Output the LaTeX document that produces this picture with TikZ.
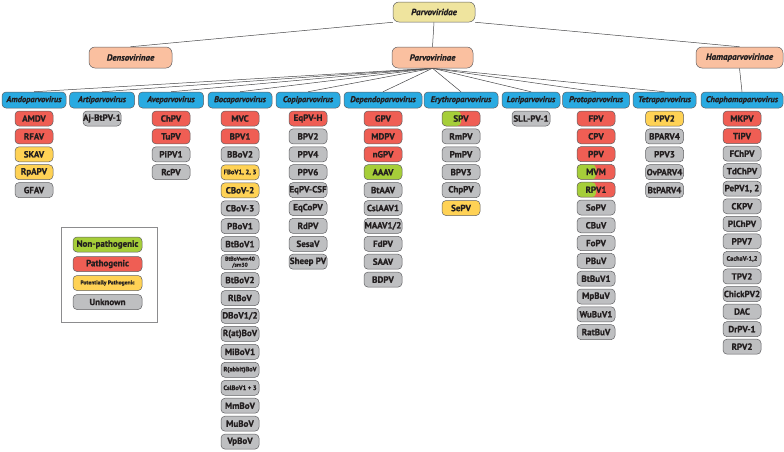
\documentclass[tikz,border=0pt]{standalone}
\usepackage{fontspec}
\setmainfont{PT Sans}[BoldFeatures={FakeBold=0.8},BoldItalicFeatures={FakeBold=0.8}]
\usetikzlibrary{backgrounds}
\definecolor{famfill}{RGB}{239,228,158}
\definecolor{subfill}{RGB}{250,192,160}
\definecolor{genfill}{RGB}{41,170,225}
\definecolor{pathred}{RGB}{239,94,84}
\definecolor{potyellow}{RGB}{255,210,85}
\definecolor{nongreen}{RGB}{166,206,57}
\definecolor{unkgray}{RGB}{190,191,193}
\definecolor{edge}{RGB}{95,95,98}
\definecolor{ink}{RGB}{35,31,32}
\definecolor{linegray}{RGB}{70,70,72}
\definecolor{legendgray}{RGB}{140,140,142}
\begin{document}
\begin{tikzpicture}[x=1pt,y=-1pt,
  box/.style={draw=edge,line width=0.5pt,rounded corners=4pt,inner sep=0pt,text=ink,
    font=\fontsize{9}{9}\selectfont\bfseries},
  fam/.style={box,fill=famfill,minimum width=82pt,minimum height=20pt,rounded corners=6pt,
    font=\fontsize{9}{10}\selectfont\bfseries\itshape},
  sub/.style={box,fill=subfill,minimum height=21pt,rounded corners=6pt,
    font=\fontsize{9}{10}\selectfont\bfseries\itshape},
  genus/.style={box,fill=genfill,minimum height=16pt,
    font=\fontsize{8.4}{9}\selectfont\bfseries\itshape},
  sp/.style={box,minimum width=38pt,minimum height=15pt},
  sp-r/.style={sp,fill=pathred},
  sp-y/.style={sp,fill=potyellow},
  sp-n/.style={sp,fill=nongreen},
  sp-g/.style={sp,fill=unkgray},
  sp-gs/.style={sp-g,font=\fontsize{6.4}{7}\selectfont\bfseries},
  sp-gt/.style={sp-g,align=center,font=\fontsize{5.6}{6}\selectfont\bfseries},
  sp-ys/.style={sp-y,font=\fontsize{6.6}{7}\selectfont\bfseries},
  sp-s/.style={sp,fill=pathred,path picture={\fill[nongreen] (path picture bounding box.south west)
    rectangle (path picture bounding box.north);}},
  link/.style={draw=linegray,line width=0.5pt},
]
\useasboundingbox (0,0) rectangle (784,451);
% family and subfamilies
\node[fam] (pv) at (434,12) {Parvoviridae};
\node[sub,minimum width=83pt] (dens) at (130.5,57.5) {Densovirinae};
\node[sub,minimum width=81pt] (parv) at (432.5,57.5) {Parvovirinae};
\node[sub,minimum width=87pt] (hama) at (739.5,57.5) {Hamaparvovirinae};
% genera with their species
\foreach \gx/\gw/\gname/\pitch/\splist [count=\i] in {
  34/64/Amdoparvovirus/17.9/{AMDV/r,RFAV/r,SKAV/y,RpAPV/y,GFAV/g},
  102/65/Artiparvovirus/17.9/{Aj-BtPV-1/g},
  171/65/Aveparvovirus/17.9/{ChPV/r,TuPV/r,PiPV1/g,RcPV/g},
  240/64/Bocaparvovirus/17.95/{MVC/r,BPV1/r,BBoV2/g,{FBoV1, 2, 3}/ys,CBoV-2/y,CBoV-3/g,PBoV1/g,
    BtBoV1/g,{BtBoVwm40\\/sm30}/gt,BtBoV2/g,RlBoV/g,{DBoV1/2}/g,R(at)BoV/g,MiBoV1/g,
    R(abbit)BoV/gs,CslBoV1 + 3/gs,MmBoV/g,MuBoV/g,VpBoV/g},
  308/64/Copiparvovirus/17.9/{EqPV-H/r,BPV2/g,PPV4/g,PPV6/g,EqPV-CSF/g,EqCoPV/g,RdPV/g,SesaV/g,Sheep PV/g},
  383/78/Dependoparvovirus/17.9/{GPV/r,MDPV/r,nGPV/r,AAAV/n,BtAAV/g,CslAAV1/g,{MAAV1/2}/g,FdPV/g,SAAV/g,BDPV/g},
  461/74/Erythroparvovirus/17.9/{SPV/s,RmPV/g,PmPV/g,BPV3/g,ChpPV/g,SePV/y},
  531/58/Loriparvovirus/17.9/{Sl.L-PV-1/g},
  596/67/Protoparvovirus/17.8/{FPV/r,CPV/r,PPV/r,MVM/s,RPV1/s,SoPV/g,CBuV/g,FoPV/g,PBuV/g,BtBuV1/g,
    MpBuV/g,WuBuV1/g,RatBuV/g},
  664.5/63/Tetraparvovirus/17.9/{PPV2/y,BPARV4/g,PPV3/g,OvPARV4/g,BtPARV4/g},
  742/82/Chaphamaparvovirus/17.55/{MKPV/r,TiPV/r,FChPV/g,TdChPV/g,{PePV1, 2}/g,CKPV/g,PlChPV/g,PPV7/g,
    {CachaV-1,2}/gs,TPV2/g,ChickPV2/g,DAC/g,DrPV-1/g,RPV2/g}}{
  \node[genus,minimum width=\gw pt] (g\i) at (\gx,100) {\gname};
  \foreach \spname/\col [count=\j] in \splist
    \node[sp-\col] (s\i-\j) at (\gx,{118.5+(\j-1)*\pitch}) {\spname};
}
% connectors
\begin{scope}[on background layer]
\draw[link] (pv.south west) -- (dens.north);
\draw[link] (pv.south) -- (parv.north);
\draw[link] (pv.south east) -- (hama.north);
\foreach \i in {1,...,10}
  \draw[link] (parv.south) -- (g\i.north);
\draw[link] (hama.south) -- (g11.north);
\end{scope}
% legend
\draw[draw=legendgray,line width=0.6pt] (61,227) rectangle (157,322);
\node[sp-n,minimum width=69pt] (leg-n) at (107.5,244.5) {Non-pathogenic};
\node[sp-r,minimum width=69pt] (leg-r) at (107.5,264) {Pathogenic};
\node[sp-y,minimum width=69pt,font=\fontsize{5.6}{6}\selectfont\bfseries] (leg-y) at (107.5,283) {Potentially Pathogenic};
\node[sp-g,minimum width=69pt] (leg-g) at (107.5,302) {Unknown};
\end{tikzpicture}
\end{document}
